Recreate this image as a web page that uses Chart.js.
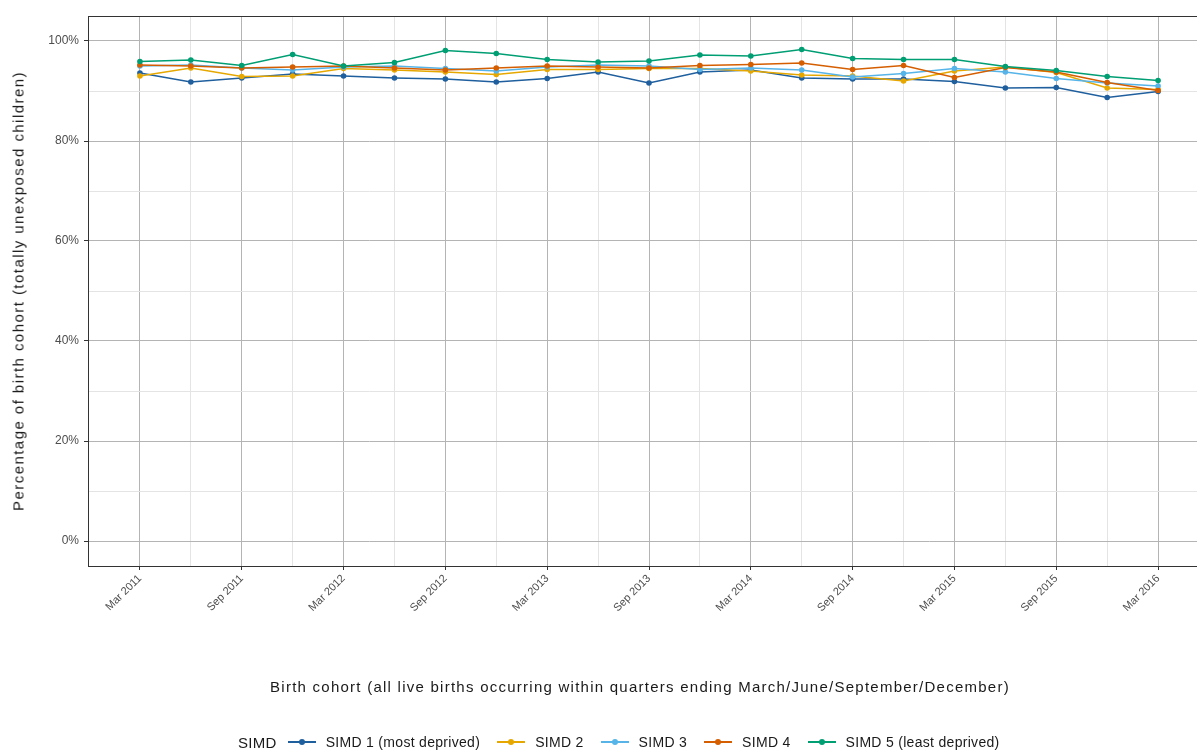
<!DOCTYPE html>
<html>
<head>
<meta charset="utf-8">
<script src="https://cdn.jsdelivr.net/npm/chart.js@4.4.1/dist/chart.umd.min.js"></script>
<style>
html, body { margin: 0; padding: 0; background: #fff; overflow: hidden; width: 1197px; height: 751px; }
#wrap { position: absolute; left: 0; top: 0; width: 1214px; height: 751px; }
.fnt { font-family: "Liberation Sans", Arial, sans-serif; color: #1a1a1a; white-space: nowrap; }
#xtitle { position: absolute; left: 640px; top: 686px; transform: translate(-50%, -50%); font-size: 15px; letter-spacing: 1.25px; }
#ytitle { position: absolute; left: 18px; top: 291px; transform: translate(-50%, -50%) rotate(-90deg); font-size: 15px; letter-spacing: 1.45px; }
#legend { position: absolute; top: 733px; left: 238px; height: 18px; display: flex; align-items: center; font-size: 14px; letter-spacing: 0.3px; }
#legend .ttl { font-size: 15px; margin-right: 6px; }
#legend .sw { position: relative; display: inline-block; width: 30px; height: 12px; margin: 0 9px 0 4px; }
#legend .sw .ln { position: absolute; left: 1px; right: 1px; top: 5px; height: 2px; }
#legend .sw .pt { position: absolute; left: 12px; top: 3px; width: 6px; height: 6px; border-radius: 50%; }
#legend .lb { margin-right: 12px; }
</style>
</head>
<body>
<div id="wrap"><canvas id="grafico"></canvas></div>
<div id="xtitle" class="fnt">Birth cohort (all live births occurring within quarters ending March/June/September/December)</div>
<div id="ytitle" class="fnt">Percentage of birth cohort (totally unexposed children)</div>
<div id="legend" class="fnt"></div>
<script>
var quarters = ['Mar 2011', 'Jun 2011', 'Sep 2011', 'Dec 2011', 'Mar 2012', 'Jun 2012', 'Sep 2012', 'Dec 2012',
    'Mar 2013', 'Jun 2013', 'Sep 2013', 'Dec 2013', 'Mar 2014', 'Jun 2014', 'Sep 2014', 'Dec 2014',
    'Mar 2015', 'Jun 2015', 'Sep 2015', 'Dec 2015', 'Mar 2016'];

var simd1 = [93.6, 91.8, 92.6, 93.4, 93.0, 92.6, 92.4, 91.8, 92.5, 93.8, 91.6, 93.8, 94.2, 92.6, 92.4, 92.4, 91.9, 90.6, 90.7, 88.7, 89.9];
var simd2 = [93.0, 94.6, 92.9, 93.0, 94.5, 94.2, 93.8, 93.3, 94.3, 94.3, 94.5, 94.5, 94.0, 93.2, 93.0, 92.0, 94.0, 94.8, 93.7, 90.6, 90.3];
var simd3 = [95.0, 95.2, 94.6, 94.2, 94.8, 95.0, 94.5, 94.0, 94.8, 95.2, 95.0, 94.3, 94.6, 94.2, 92.8, 93.5, 94.5, 93.8, 92.5, 91.6, 91.0];
var simd4 = [95.2, 95.0, 94.6, 94.8, 95.0, 94.6, 94.2, 94.6, 95.0, 94.8, 94.6, 95.1, 95.3, 95.6, 94.3, 95.1, 92.7, 94.7, 93.8, 91.7, 90.1];
var simd5 = [95.9, 96.2, 95.1, 97.3, 95.0, 95.7, 98.1, 97.5, 96.3, 95.8, 96.0, 97.2, 97.0, 98.3, 96.5, 96.3, 96.3, 94.9, 94.1, 92.9, 92.1];

var seriesNames = ['SIMD 1 (most deprived)', 'SIMD 2', 'SIMD 3', 'SIMD 4', 'SIMD 5 (least deprived)'];
var seriesValues = [simd1, simd2, simd3, simd4, simd5];
var seriesColors = ['#1f5f9e', '#e6a800', '#56b4e9', '#d55e00', '#009e73'];
var yTicks = [0, 10, 20, 30, 40, 50, 60, 70, 80, 90, 100];

var fonte = '"Liberation Sans", Arial, sans-serif';
var majorGrid = '#b4b4b4';
var minorGrid = '#e4e4e4';

var datasets = seriesNames.map(function(nome, s) {
    return {
        label: nome,
        data: seriesValues[s].map(function(v, i) { return {x: i, y: v}; }),
        borderColor: seriesColors[s],
        backgroundColor: seriesColors[s],
        borderWidth: 1.5,
        pointRadius: 2.8,
        pointBorderWidth: 0,
        tension: 0,
        order: 5 - s
    };
});

// panel border (top side)
var moldura = {
    id: 'moldura',
    afterDraw: function(chart) {
        var a = chart.chartArea, c = chart.ctx;
        c.save();
        c.strokeStyle = '#333';
        c.lineWidth = 1;
        c.strokeRect(a.left + 0.5, a.top + 0.5, a.right - a.left, a.bottom - a.top);
        c.restore();
    }
};

new Chart(document.getElementById('grafico').getContext('2d'), {
    type: 'line',
    data: { datasets: datasets },
    plugins: [moldura],
    options: {
        responsive: true,
        maintainAspectRatio: false,
        animation: false,
        layout: { padding: { top: 16, left: 6, right: 4, bottom: 54 } },
        plugins: { legend: { display: false }, tooltip: { enabled: false } },
        scales: {
            x: {
                type: 'linear',
                min: -1.02,
                max: 21.02,
                afterBuildTicks: function(scale) {
                    scale.ticks = quarters.map(function(q, i) { return {value: i}; });
                },
                afterFit: function(scale) { scale.height = 131; },
                grid: {
                    color: function(ctx) { return ctx.tick && ctx.tick.value % 2 === 0 ? majorGrid : minorGrid; },
                    tickColor: function(ctx) { return ctx.tick && ctx.tick.value % 2 === 0 ? '#333' : 'rgba(0,0,0,0)'; },
                    tickLength: 4
                },
                border: { display: true, color: '#333' },
                ticks: {
                    autoSkip: false,
                    minRotation: 45,
                    maxRotation: 45,
                    padding: 2,
                    color: '#4d4d4d',
                    font: { family: fonte, size: 11 },
                    callback: function(v) { return v % 2 === 0 ? quarters[v] : ''; }
                }
            },
            y: {
                min: -5,
                max: 105,
                afterBuildTicks: function(scale) {
                    scale.ticks = yTicks.map(function(v) { return {value: v}; });
                },
                afterFit: function(scale) { scale.width = 82; },
                grid: {
                    color: function(ctx) { return ctx.tick && ctx.tick.value % 20 === 0 ? majorGrid : minorGrid; },
                    tickColor: function(ctx) { return ctx.tick && ctx.tick.value % 20 === 0 ? '#333' : 'rgba(0,0,0,0)'; },
                    tickLength: 4
                },
                border: { display: true, color: '#333' },
                ticks: {
                    padding: 5,
                    color: '#4d4d4d',
                    font: { family: fonte, size: 12 },
                    callback: function(v) { return v % 20 === 0 ? v + '%' : ''; }
                }
            }
        }
    }
});

// legenda em HTML
var legenda = document.getElementById('legend');
var html = '<span class="ttl">SIMD</span>';
seriesNames.forEach(function(nome, s) {
    html += '<span class="sw"><span class="ln" style="background:' + seriesColors[s] + '"></span>' +
        '<span class="pt" style="background:' + seriesColors[s] + '"></span></span>' +
        '<span class="lb">' + nome + '</span>';
});
legenda.innerHTML = html;
</script>
</body>
</html>
